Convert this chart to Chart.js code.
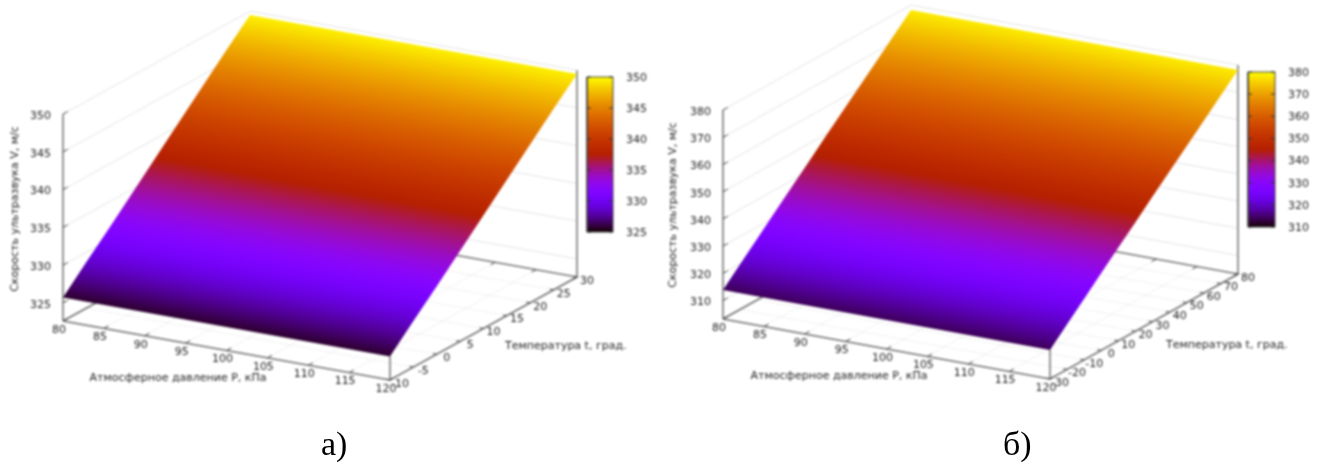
<!DOCTYPE html>
<html>
<head>
<meta charset="utf-8">
<title>Скорость ультразвука</title>
<script src="https://cdn.jsdelivr.net/npm/chart.js@4"></script>
<style>
    html, body { margin: 0; background: #fff; overflow: hidden; }
    canvas { position: absolute; top: 0; filter: blur(0.8px); }
    #chartA { left: 0; }
    #chartB { left: 661px; }
    .caption { position: absolute; top: 424px; font: 34px/40px "Liberation Serif", serif; color: #000; }
</style>
</head>
<body>
<canvas id="chartA" width="661" height="464"></canvas>
<canvas id="chartB" width="661" height="464"></canvas>
<div class="caption" style="left: 321px">а)</div>
<div class="caption" style="left: 1003px">б)</div>
<script>
// Axis ticks and surface values
const pressureTicks = [80, 85, 90, 95, 100, 105, 110, 115, 120];

const tempTicksA = [-10, -5, 0, 5, 10, 15, 20, 25, 30];
const speedTicksA = [325, 330, 335, 340, 345, 350];
const surfaceSpeedA = [325.7, 328.7, 331.6, 334.6, 337.6, 340.6, 343.6, 346.6, 349.5];

const tempTicksB = [-30, -20, -10, 0, 10, 20, 30, 40, 50, 60, 70, 80];
const speedTicksB = [310, 320, 330, 340, 350, 360, 370, 380];
const surfaceSpeedB = [313.9, 319.8, 325.7, 331.6, 337.5, 343.3, 349.2, 355.0, 360.8, 366.6, 372.4, 378.2];

const pressureTitle = 'Атмосферное давление P, кПа';
const tempTitle = 'Температура t, град.';
const speedTitle = 'Скорость ультразвука V, м/с';

const FONT = '11px "DejaVu Sans"';
const TEXT_COLOR = '#1c1c1c';

// gnuplot's default pm3d palette (rgbformulae 7,5,15)
function paletteColor(x) {
    const r = Math.sqrt(x);
    const g = x * x * x;
    const b = Math.max(0, Math.sin(2 * Math.PI * x));
    return `rgb(${Math.round(r * 255)},${Math.round(g * 255)},${Math.round(b * 255)})`;
}

function addStops(gradient, from, to) {
    const n = 96;
    for (let i = 0; i <= n; i++) {
        const x = from + (to - from) * i / n;
        gradient.addColorStop(i / n, paletteColor(x));
    }
    return gradient;
}

function buildChart(id, view, temps, speeds, surface) {
    const pMin = pressureTicks[0];
    const pMax = pressureTicks[pressureTicks.length - 1];
    const tMin = temps[0];
    const tMax = temps[temps.length - 1];
    const cbMin = speeds[0];
    const cbMax = speeds[speeds.length - 1];

    // 3D axes -> view plane
    function project(p, t, v) {
        const a = (p - pMin) / (pMax - pMin);
        const b = (t - tMin) / (tMax - tMin);
        return {
            x: view.origin[0] + a * view.pVec[0] + b * view.tVec[0],
            y: view.origin[1] + a * view.pVec[1] + b * view.tVec[1] - (v - view.floor) * view.vUnit
        };
    }

    function barY(v) {
        return view.barBottom + (v - cbMin) / (cbMax - cbMin) * (view.barTop - view.barBottom);
    }

    function line(points, color, width, dash) {
        return {
            data: points,
            borderColor: color,
            borderWidth: width || 1,
            borderDash: dash || [],
            pointRadius: 0,
            fill: false,
            tension: 0
        };
    }

    const datasets = [];
    const floor = view.floor;
    const top = cbMax;
    const GRID = '#e4e4e4';
    const AXIS = '#707070';

    // grid on the floor
    pressureTicks.forEach(function (p) {
        datasets.push(line([project(p, tMin, floor), project(p, tMax, floor)], GRID, 1, [2, 2]));
    });
    temps.forEach(function (t) {
        datasets.push(line([project(pMin, t, floor), project(pMax, t, floor)], GRID, 1, [2, 2]));
    });
    // grid on the two back walls
    speeds.forEach(function (v) {
        datasets.push(line([project(pMin, tMin, v), project(pMin, tMax, v), project(pMax, tMax, v)], GRID));
    });

    // floor frame and vertical axes
    datasets.push(line([project(pMin, tMin, floor), project(pMax, tMin, floor), project(pMax, tMax, floor),
        project(pMin, tMax, floor), project(pMin, tMin, floor)], AXIS, 1.5));
    datasets.push(line([project(pMin, tMin, floor), project(pMin, tMin, top)], AXIS, 1.5));
    datasets.push(line([project(pMax, tMax, floor), project(pMax, tMax, top)], AXIS, 1.5));
    datasets.push(line([project(pMax, tMin, floor), project(pMax, tMin, surface[0])], AXIS, 1.5));

    // tick marks
    const pStep = (pMax - pMin) * 0.012;
    const tStep = (tMax - tMin) * 0.025;
    pressureTicks.forEach(function (p) {
        datasets.push(line([project(p, tMin, floor), project(p, tMin + tStep, floor)], '#444'));
        datasets.push(line([project(p, tMax, floor), project(p, tMax - tStep, floor)], '#444'));
    });
    temps.forEach(function (t) {
        datasets.push(line([project(pMax, t, floor), project(pMax - pStep, t, floor)], '#444'));
    });
    speeds.forEach(function (v) {
        datasets.push(line([project(pMin, tMin, v), project(pMin, tMin + tStep, v)], '#444'));
    });

    // the surface: up the P=min edge, back down the P=max edge
    const outline = [];
    temps.forEach(function (t, i) { outline.push(project(pMin, t, surface[i])); });
    for (let i = temps.length - 1; i >= 0; i--) {
        outline.push(project(pMax, temps[i], surface[i]));
    }
    datasets.push({
        data: outline,
        borderWidth: 0,
        pointRadius: 0,
        tension: 0,
        fill: 'shape',
        backgroundColor: function (ctx) {
            const sc = ctx.chart.scales;
            if (!sc.x || !ctx.chart.chartArea) return '#800080';
            const a = project(pMin, tMin, surface[0]);
            const b = project(pMin, tMax, surface[surface.length - 1]);
            const c = project(pMax, tMin, surface[0]);
            const dx = c.x - a.x, dy = c.y - a.y;
            const ux = b.x - a.x, uy = b.y - a.y;
            const k = (ux * dx + uy * dy) / (dx * dx + dy * dy);
            const g = ctx.chart.ctx.createLinearGradient(
                sc.x.getPixelForValue(a.x), sc.y.getPixelForValue(a.y),
                sc.x.getPixelForValue(a.x + ux - k * dx), sc.y.getPixelForValue(a.y + uy - k * dy));
            return addStops(g,
                (surface[0] - cbMin) / (cbMax - cbMin),
                (surface[surface.length - 1] - cbMin) / (cbMax - cbMin));
        }
    });

    // colour box
    const barBox = [
        { x: view.barLeft, y: barY(cbMin) }, { x: view.barRight, y: barY(cbMin) },
        { x: view.barRight, y: barY(cbMax) }, { x: view.barLeft, y: barY(cbMax) }, { x: view.barLeft, y: barY(cbMin) }
    ];
    datasets.push({
        data: barBox,
        borderColor: '#444',
        borderWidth: 1,
        pointRadius: 0,
        tension: 0,
        fill: 'shape',
        backgroundColor: function (ctx) {
            const sc = ctx.chart.scales;
            if (!sc.y || !ctx.chart.chartArea) return '#800080';
            const g = ctx.chart.ctx.createLinearGradient(0, sc.y.getPixelForValue(barY(cbMin)), 0, sc.y.getPixelForValue(barY(cbMax)));
            return addStops(g, 0, 1);
        }
    });
    speeds.forEach(function (v) {
        datasets.push(line([{ x: view.barLeft, y: barY(v) }, { x: view.barLeft + 4, y: barY(v) }], '#333'));
        datasets.push(line([{ x: view.barRight - 4, y: barY(v) }, { x: view.barRight, y: barY(v) }], '#333'));
    });

    // Texts, placed through the same scales
    const labelsPlugin = {
        id: 'plotLabels',
        afterDraw: function (chart) {
            const c = chart.ctx;
            const sx = chart.scales.x, sy = chart.scales.y;
            function text(str, x, y, align) {
                c.textAlign = align || 'center';
                c.fillText(str, sx.getPixelForValue(x), sy.getPixelForValue(y));
            }
            c.save();
            c.font = FONT;
            c.fillStyle = TEXT_COLOR;
            c.textBaseline = 'middle';
            pressureTicks.forEach(function (p) {
                const q = project(p, tMin, floor);
                text(String(p), q.x - 4, q.y + 9);
            });
            temps.forEach(function (t) {
                const q = project(pMax, t, floor);
                text(String(t), q.x + 10, q.y + 4);
            });
            speeds.forEach(function (v) {
                const q = project(pMin, tMin, v);
                text(String(v), q.x - 12, q.y + 2, 'right');
                text(String(v), view.barRight + 13, barY(v) + 1, 'left');
            });
            text(pressureTitle, view.pTitle[0], view.pTitle[1]);
            text(tempTitle, view.tTitle[0], view.tTitle[1], 'left');

            c.save();
            c.translate(sx.getPixelForValue(view.vTitle[0]), sy.getPixelForValue(view.vTitle[1]));
            c.rotate(-Math.PI / 2);
            c.textAlign = 'center';
            c.fillText(speedTitle, 0, 0);
            c.restore();
            c.restore();
        }
    };

    return new Chart(document.getElementById(id).getContext('2d'), {
        type: 'line',
        // first dataset is painted last, so flip the bottom-to-top list
        data: { datasets: datasets.reverse() },
        plugins: [labelsPlugin],
        options: {
            responsive: false,
            animation: false,
            parsing: false,
            normalized: true,
            layout: { padding: 0 },
            plugins: { legend: { display: false }, tooltip: { enabled: false }, title: { display: false } },
            scales: {
                x: { type: 'linear', display: false, min: 0, max: 661 },
                y: { type: 'linear', display: false, min: 0, max: 464, reverse: true }
            }
        }
    });
}

buildChart('chartA', {
    origin: [63, 321], pVec: [327, 59], tVec: [187, -103], floor: 322.6, vUnit: 7.55,
    barLeft: 587, barRight: 613, barTop: 77, barBottom: 232,
    pTitle: [178, 378], tTitle: [505, 346], vTitle: [15, 209]
}, tempTicksA, speedTicksA, surfaceSpeedA);

buildChart('chartB', {
    origin: [62, 319], pVec: [327, 60], tVec: [188, -105], floor: 303.2, vUnit: 2.72,
    barLeft: 587, barRight: 614, barTop: 72, barBottom: 227,
    pTitle: [178, 376], tTitle: [505, 345], vTitle: [12, 205]
}, tempTicksB, speedTicksB, surfaceSpeedB);
</script>
</body>
</html>
